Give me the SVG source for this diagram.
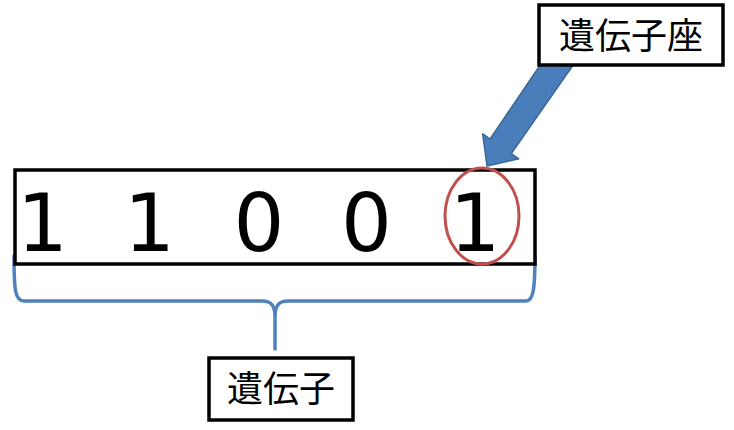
<svg xmlns="http://www.w3.org/2000/svg" width="734" height="430" viewBox="0 0 734 430">
<style>
.box{fill:#fff;stroke:#000;stroke-width:3.5}
.digit{font-family:"DejaVu Sans","Liberation Sans",sans-serif;font-size:80px;fill:#000;text-anchor:middle}
.jp{font-family:"Noto Sans CJK JP","Noto Sans CJK SC",sans-serif;font-size:36px;fill:#000;text-anchor:middle}
.brace{fill:none;stroke:#4F81BD;stroke-width:3.5;stroke-linecap:round;stroke-linejoin:round}
</style>
<rect width="734" height="430" fill="#fff"/>
<g id="connectors">
  <path class="brace" d="M14,256 C14,290 15,301 24,301 L262,301 C272,301 275,306 275,318 L275,349 M275,318 C275,306 278,301 288,301 L526,301 C533,301 535,290 535,256"/>
  <polygon points="551.6,48.1 574.0,63.7 511.3,153.6 518.7,158.8 487,166 482.7,133.8 490.1,139.0" fill="#4A7EBB" stroke="#3A6595" stroke-width="1.5" stroke-linejoin="round"/>
</g>
<g id="gene-sequence">
  <rect class="box" x="15" y="170" width="520" height="94"/>
  <text class="digit" x="42.5" y="251">1</text>
  <text class="digit" x="149.5" y="251">1</text>
  <text class="digit" x="259" y="251">0</text>
  <text class="digit" x="366.5" y="251">0</text>
  <text class="digit" x="475" y="251">1</text>
  <ellipse cx="482" cy="216" rx="37" ry="48" fill="none" stroke="#C0504D" stroke-width="3"/>
</g>
<g id="locus-label">
  <rect class="box" x="539" y="5" width="184" height="60"/>
  <text class="jp" x="631" y="49">遺伝子座</text>
</g>
<g id="gene-label">
  <rect class="box" x="209" y="358" width="144" height="62"/>
  <text class="jp" x="281" y="402">遺伝子</text>
</g>
</svg>
